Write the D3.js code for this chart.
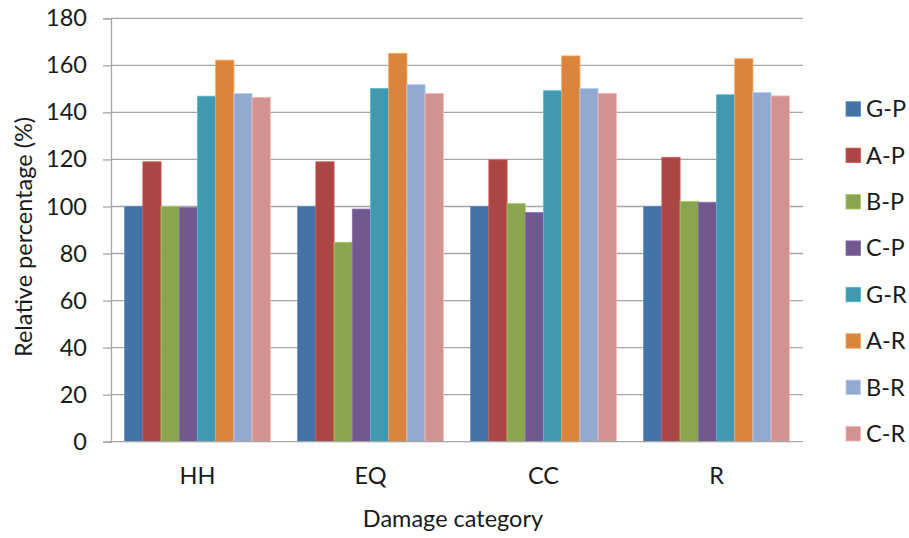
<!DOCTYPE html>
<html>
<head>
<meta charset="utf-8">
<script src="https://cdn.jsdelivr.net/npm/d3@7/dist/d3.min.js"></script>
<style>
  html, body { margin: 0; padding: 0; background: #ffffff; }
  svg { display: block; font-family: Lato, "Open Sans", sans-serif; }
</style>
</head>
<body>
<svg id="chart" width="909" height="538"></svg>
<script>
// Damage categories along the x axis
const categories = ["HH", "EQ", "CC", "R"];

// Series names (one bar per series in each category)
const seriesNames = ["G-P", "A-P", "B-P", "C-P", "G-R", "A-R", "B-R", "C-R"];

// Relative percentage per series, in category order HH, EQ, CC, R
const gP = [100, 100, 100, 100];
const aP = [119, 119, 119.8, 120.9];
const bP = [100, 84.8, 101.2, 102.2];
const cP = [99.6, 98.9, 97.4, 101.8];
const gR = [146.9, 150.2, 149.2, 147.5];
const aR = [162.2, 165.1, 164.0, 162.8];
const bR = [148.0, 151.8, 150.2, 148.5];
const cR = [146.4, 148.0, 148.1, 147.0];

const seriesValues = [gP, aP, bP, cP, gR, aR, bR, cR];
const seriesColors = ["#4572A7", "#AA4643", "#89A54E", "#71588F",
                      "#4198AF", "#DB843D", "#93A9CF", "#D19392"];

const yTicks = [0, 20, 40, 60, 80, 100, 120, 140, 160, 180];

const FONT = 23.5;
const svg = d3.select("#chart");
const plot = { left: 111, right: 803, top: 18.3, bottom: 441.7 };

const x0 = d3.scaleBand()
  .domain(categories)
  .range([plot.left, plot.right])
  .paddingInner(0)
  .paddingOuter(0);

// 8 bars plus a gap of 1.5 bar widths per category
const barW = x0.bandwidth() / 9.5;
const x1 = d3.scaleBand()
  .domain(seriesNames)
  .range([barW * 0.75, barW * 8.75])
  .padding(0);

const y = d3.scaleLinear().domain([0, 180]).range([plot.bottom, plot.top]);

const gridColor = "#a6a6a6";

// Horizontal gridlines
svg.append("g")
  .selectAll("line")
  .data(yTicks.filter(t => t > 0))
  .join("line")
  .attr("x1", plot.left)
  .attr("x2", plot.right)
  .attr("y1", d => y(d))
  .attr("y2", d => y(d))
  .attr("stroke", gridColor)
  .attr("stroke-width", 1.3);

// Bars
const groups = svg.append("g")
  .selectAll("g")
  .data(categories)
  .join("g")
  .attr("transform", d => `translate(${x0(d)},0)`);

groups.selectAll("rect")
  .data((c, ci) => seriesNames.map((s, si) => ({ s, v: seriesValues[si][ci], color: seriesColors[si] })))
  .join("rect")
  .attr("x", d => x1(d.s))
  .attr("width", x1.bandwidth())
  .attr("y", d => y(d.v))
  .attr("height", d => y(0) - y(d.v))
  .attr("fill", d => d.color)
  .attr("stroke", d => d3.color(d.color).brighter(0.6))
  .attr("stroke-width", 0.8);

// Y axis
const yAxis = d3.axisLeft(y)
  .tickValues(yTicks)
  .tickSize(8)
  .tickPadding(16)
  .tickFormat(d3.format("d"));

const gy = svg.append("g")
  .attr("transform", `translate(${plot.left},0)`)
  .call(yAxis);
gy.select(".domain").attr("stroke", gridColor).attr("stroke-width", 1.3);
gy.selectAll(".tick line").attr("stroke", gridColor).attr("stroke-width", 1.3);
gy.selectAll(".tick text")
  .attr("font-size", FONT)
  .attr("fill", "#1a1a1a")
  .attr("font-family", "Lato, sans-serif");

// X axis baseline and category labels
const xAxis = d3.axisBottom(x0).tickSize(0).tickPadding(26);
const gx = svg.append("g")
  .attr("transform", `translate(0,${plot.bottom})`)
  .call(xAxis);
gx.select(".domain").attr("stroke", gridColor).attr("stroke-width", 1.3)
  .attr("d", `M${plot.left - 3},0H${plot.right}`);
gx.selectAll(".tick text")
  .attr("font-size", FONT)
  .attr("fill", "#1a1a1a")
  .attr("font-family", "Lato, sans-serif");

// Axis titles
svg.append("text")
  .attr("x", (plot.left + plot.right) / 2 - 4)
  .attr("y", 526.5)
  .attr("text-anchor", "middle")
  .attr("font-size", FONT)
  .attr("fill", "#1a1a1a")
  .text("Damage category");

svg.append("text")
  .attr("transform", `translate(32,${(plot.top + plot.bottom) / 2 + 7}) rotate(-90)`)
  .attr("text-anchor", "middle")
  .attr("font-size", FONT)
  .attr("fill", "#1a1a1a")
  .text("Relative percentage (%)");

// Legend
const legend = svg.append("g")
  .selectAll("g")
  .data(seriesNames)
  .join("g")
  .attr("transform", (d, i) => `translate(846,${101.7 + i * 46.4})`);

legend.append("rect")
  .attr("width", 14.5)
  .attr("height", 14.5)
  .attr("fill", (d, i) => seriesColors[i])
  .attr("stroke", (d, i) => d3.color(seriesColors[i]).brighter(0.6))
  .attr("stroke-width", 0.8);

legend.append("text")
  .attr("x", 20)
  .attr("y", 15.5)
  .attr("font-size", FONT)
  .attr("fill", "#1a1a1a")
  .text(d => d);
</script>
</body>
</html>
